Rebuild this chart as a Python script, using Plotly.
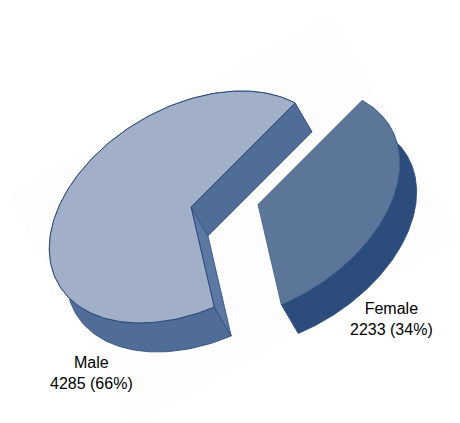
import numpy as np
import plotly.graph_objects as go

categories = ["Male", "Female"]
values = [4285, 2233]
percent_labels = ["66%", "34%"]
top_colors = ["#A1B0C8", "#5C769A"]
wall_colors = ["#4F6D96", "#2C4C7C"]
cut_color_a = "#4F6D96"
cut_color_b = "#5B79A2"
edge_color = "#2A4A7C"
apexes = [(191.0, 207.0), (258.0, 204.5)]
U = np.array([104.0, -104.0])
V = np.array([96.2, 51.3])
DEPTH = np.array([17.0, 29.0])
W, H = 460, 423

total = sum(values)
female_span = 2 * np.pi * values[1] / total
male_span = 2 * np.pi * values[0] / total


def arc(apex, t0, t1, n=160):
    t = np.linspace(t0, t1, n)
    return np.array(apex) + np.outer(np.cos(t), U) + np.outer(np.sin(t), V)


def poly(fig, pts, fill, lw=1.0, line=edge_color):
    pts = np.vstack([pts, pts[:1]])
    fig.add_trace(go.Scatter(x=pts[:, 0], y=pts[:, 1], mode="lines", fill="toself",
                             fillcolor=fill, line=dict(color=line, width=lw),
                             hoverinfo="skip", showlegend=False))


fig = go.Figure()

# faint rotated backdrop of the pasted picture
fig.add_shape(type="path", path="M 330 15 L 460 238 L 135 425 L 8 195 Z",
              fillcolor="#FDFDFD", line=dict(width=0), layer="below")

# Male slice: angles run counter-clockwise on screen from the shared boundary
apex = np.array(apexes[0])
male_arc = arc(apex, 0, -male_span)
poly(fig, np.vstack([male_arc, (male_arc + DEPTH)[::-1]]), wall_colors[0], 0.8)
poly(fig, np.array([apex, male_arc[-1], male_arc[-1] + DEPTH, apex + DEPTH]), cut_color_b, 0.8)
poly(fig, np.array([apex, male_arc[0], male_arc[0] + DEPTH, apex + DEPTH]), cut_color_a, 0.6)
poly(fig, np.vstack([[apex], male_arc]), top_colors[0], 1.0)

# Female slice
apex = np.array(apexes[1])
female_arc = arc(apex, 0, female_span)
poly(fig, np.vstack([female_arc, (female_arc + DEPTH)[::-1]]), wall_colors[1], 0.8)
poly(fig, np.vstack([[apex], female_arc]), top_colors[1], 0.8, "#3F5F8C")

label_pos = [(91.5, 372.5), (391.5, 318.5)]
for name, val, pct, (lx, ly) in zip(categories, values, percent_labels, label_pos):
    fig.add_annotation(x=lx, y=ly, xref="x", yref="y", showarrow=False,
                       text=f"{name}<br>{val} ({pct})", align="center",
                       font=dict(family="Liberation Sans", size=16, color="#000000"))

fig.update_layout(width=W, height=H, margin=dict(l=0, r=0, t=0, b=0),
                  paper_bgcolor="rgba(0,0,0,0)", plot_bgcolor="rgba(0,0,0,0)", showlegend=False,
                  xaxis=dict(range=[0, W], visible=False, fixedrange=True),
                  yaxis=dict(range=[H, 0], visible=False, fixedrange=True))
fig.write_html("out.html", config={"displayModeBar": False},
               post_script="document.body.style.margin='0';document.documentElement.style.overflow='hidden';")
